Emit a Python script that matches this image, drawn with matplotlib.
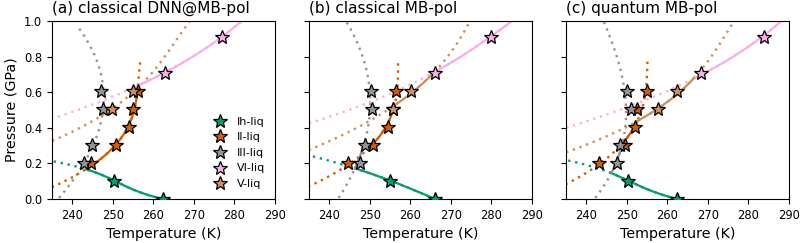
import numpy as np
import matplotlib
matplotlib.use('Agg')
import matplotlib.pyplot as plt

# Phase names, legend order and colours
phases = ['Ih', 'II', 'III', 'VI', 'V']
colors = {'Ih': '#029e73', 'II': '#d55e00', 'III': '#949494', 'VI': '#fbafe4', 'V': '#ca9161'}
titles = ['(a) classical DNN@MB-pol', '(b) classical MB-pol', '(c) quantum MB-pol']

# Pressures of the simulations (atm -> GPa)
p_atm = np.array([1, 1000, 2000, 3000, 4000, 5000, 6000, 7000, 9000])
p_gpa = p_atm * 101325e-9
p_ih = p_gpa[[0, 1]]
p_ii = p_gpa[[2, 3, 4, 5, 6]]
p_iii = p_gpa[[2, 3, 5, 6]]
p_vi = p_gpa[[7, 8]]
p_v = p_gpa[[5, 6]]

# Melting temperatures (K)
t_a_ih = [262.3, 250.2]
t_a_ii = [244.6, 250.7, 254.1, 255.1, 256.3]
t_a_iii = [242.9, 244.9, 247.6, 247.2]
t_a_vi = [263.0, 277.0]
t_a_v = [249.9, 255.1]

t_b_ih = [266.2, 255.1]
t_b_ii = [244.6, 250.9, 254.5, 255.7, 256.5]
t_b_iii = [247.5, 248.9, 250.5, 250.3]
t_b_vi = [266.0, 279.8]
t_b_v = [255.8, 260.3]

t_c_ih = [262.4, 250.4]
t_c_ii = [243.2, 249.6, 252.1, 252.5, 255.0]
t_c_iii = [247.6, 248.4, 251.1, 250.0]
t_c_vi = [268.4, 283.9]
t_c_v = [257.8, 262.5]

# Coexistence curves: (P in GPa, T in K)
curve_a_ih = ([0.0, 0.105, 0.168, 0.213], [262.3, 250.2, 243.3, 235.0])
curve_a_ii = ([0.066, 0.168, 0.303, 0.41, 0.509, 0.594, 0.79], [235.0, 243.3, 250.7, 254.1, 255.1, 256.1, 256.9])
curve_a_iii = ([0.006, 0.168, 0.303, 0.472, 0.603, 0.753, 0.865, 0.974], [236.2, 243.3, 244.9, 246.6, 247.4, 247.0, 244.9, 240.6])
curve_a_vi = ([0.449, 0.543, 0.631, 0.712, 0.916, 1.0], [235.0, 245.7, 256.3, 263.0, 277.0, 282.0])
curve_a_v = ([0.326, 0.504, 0.607, 0.856, 1.0], [235.0, 249.9, 255.1, 264.7, 269.0])

curve_b_ih = ([0.0, 0.103, 0.172, 0.245], [266.2, 255.1, 246.4, 235.0])
curve_b_ii = ([0.069, 0.204, 0.30, 0.41, 0.504, 0.612, 0.768], [235.0, 244.6, 250.9, 254.5, 255.7, 256.5, 257.1])
curve_b_iii = ([0.006, 0.172, 0.303, 0.49, 0.584, 0.697, 0.809, 0.921, 0.993], [242.3, 246.4, 248.5, 250.1, 250.1, 249.3, 248.0, 246.4, 244.1])
curve_b_vi = ([0.425, 0.687, 0.71, 0.912, 1.0], [235.0, 263.7, 266.0, 279.8, 285.2])
curve_b_v = ([0.275, 0.378, 0.508, 0.607, 0.712, 1.0], [235.0, 244.7, 255.6, 260.2, 266.2, 274.7])

curve_c_ih = ([0.0, 0.103, 0.148, 0.219], [262.4, 250.4, 245.9, 235.0])
curve_c_ii = ([0.082, 0.204, 0.303, 0.434, 0.504, 0.607, 0.787], [235.0, 243.2, 249.3, 252.4, 253.3, 255.0, 255.1])
curve_c_iii = ([0.006, 0.148, 0.303, 0.378, 0.472, 0.603, 0.734, 0.865, 0.996], [242.4, 245.9, 249.0, 249.5, 249.9, 249.6, 248.4, 246.3, 244.5])
curve_c_vi = ([0.40, 0.64, 0.68, 0.71, 0.912, 1.0], [235.0, 263.8, 267.2, 268.4, 283.9, 288.0])
curve_c_v = ([0.262, 0.434, 0.504, 0.607, 0.68, 1.0], [235.0, 252.4, 257.8, 262.5, 267.2, 276.5])

# Pressure range where each line is the stable one (solid)
solid_a = {'Ih': (0.0, 0.168), 'II': (0.168, 0.631), 'VI': (0.631, 1.0)}
solid_b = {'Ih': (0.0, 0.172), 'III': (0.172, 0.29), 'II': (0.29, 0.504), 'V': (0.504, 0.71), 'VI': (0.71, 1.0)}
solid_c = {'Ih': (0.0, 0.148), 'III': (0.148, 0.303), 'II': (0.303, 0.434), 'V': (0.434, 0.68), 'VI': (0.68, 1.0)}

panels = [
    ({'Ih': (p_ih, t_a_ih), 'II': (p_ii, t_a_ii), 'III': (p_iii, t_a_iii), 'VI': (p_vi, t_a_vi), 'V': (p_v, t_a_v)},
     {'Ih': curve_a_ih, 'II': curve_a_ii, 'III': curve_a_iii, 'VI': curve_a_vi, 'V': curve_a_v}, solid_a),
    ({'Ih': (p_ih, t_b_ih), 'II': (p_ii, t_b_ii), 'III': (p_iii, t_b_iii), 'VI': (p_vi, t_b_vi), 'V': (p_v, t_b_v)},
     {'Ih': curve_b_ih, 'II': curve_b_ii, 'III': curve_b_iii, 'VI': curve_b_vi, 'V': curve_b_v}, solid_b),
    ({'Ih': (p_ih, t_c_ih), 'II': (p_ii, t_c_ii), 'III': (p_iii, t_c_iii), 'VI': (p_vi, t_c_vi), 'V': (p_v, t_c_v)},
     {'Ih': curve_c_ih, 'II': curve_c_ii, 'III': curve_c_iii, 'VI': curve_c_vi, 'V': curve_c_v}, solid_c),
]

fig, axes = plt.subplots(1, 3, figsize=(8, 2.43), dpi=100)
fig.subplots_adjust(left=0.065, right=0.986, top=0.914, bottom=0.181, wspace=0.153)

for ax, title, (stars, curves, solid) in zip(axes, titles, panels):
    for ph in phases:
        pk, tk = curves[ph]
        deg = min(3, len(pk) - 1)
        coef = np.polyfit(pk, tk, deg)
        pp = np.linspace(min(pk), max(pk), 300)
        ax.plot(np.polyval(coef, pp), pp, color=colors[ph], lw=1.7, dashes=(1, 2), zorder=1)
        if ph in solid:
            lo, hi = solid[ph]
            ps = np.linspace(lo, hi, 200)
            ax.plot(np.polyval(coef, ps), ps, '-', color=colors[ph], lw=1.6, zorder=2)
    for ph in phases:
        p, t = stars[ph]
        ax.plot(t, p, '*', color=colors[ph], mec='black', mew=0.9, ms=10.5,
                ls='none', label=ph + '-liq', zorder=3)
    ax.set_xlim(235, 290)
    ax.set_ylim(0, 1)
    ax.set_xticks([240, 250, 260, 270, 280, 290])
    ax.set_yticks([0, 0.2, 0.4, 0.6, 0.8, 1.0])
    ax.tick_params(labelsize=8.3)
    ax.set_xlabel('Temperature (K)', fontsize=10.3)
    ax.set_title(title, loc='left', fontsize=11)

axes[0].set_ylabel('Pressure (GPa)', fontsize=10.3)
axes[1].set_yticklabels([])
axes[2].set_yticklabels([])
axes[0].legend(loc='lower right', frameon=False, fontsize=8, handletextpad=0.5)

plt.savefig('out.png', dpi=100)
